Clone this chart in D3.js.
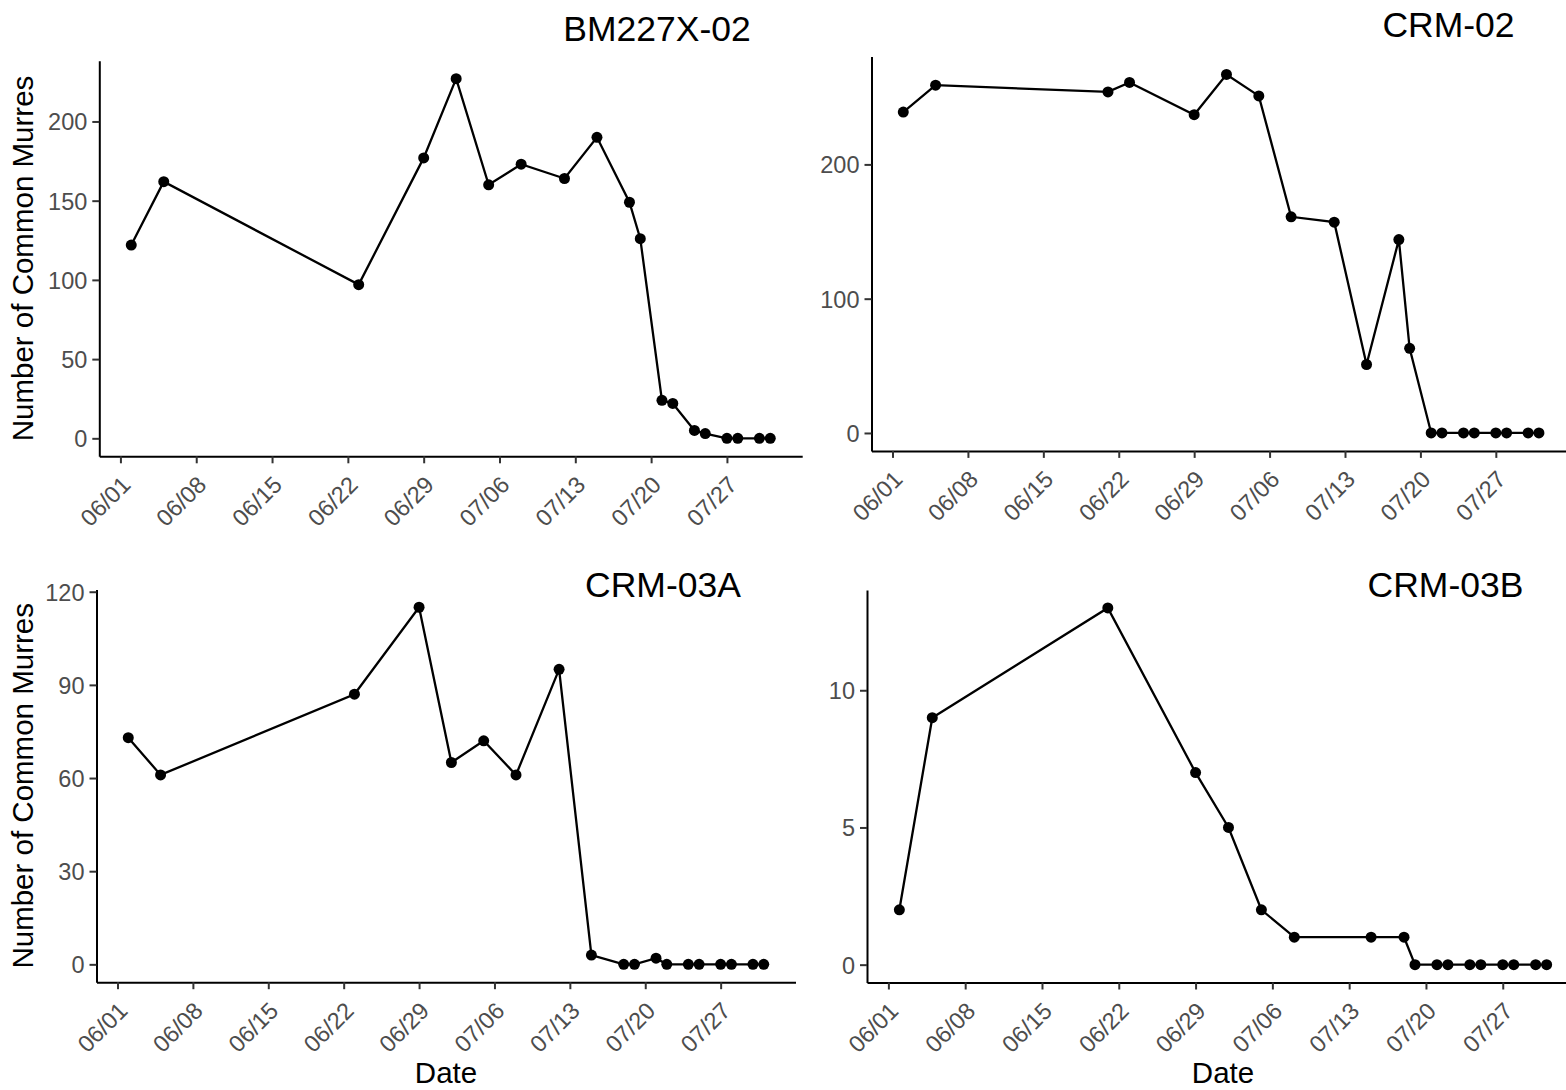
<!DOCTYPE html>
<html>
<head>
<meta charset="utf-8">
<script src="https://cdnjs.cloudflare.com/ajax/libs/d3/7.8.5/d3.min.js"></script>
<style>
  body { margin: 0; background: #fff; }
  svg { display: block; font-family: "Liberation Sans", Arial, sans-serif; }
  .ax path { stroke: #000; stroke-width: 2px; }
  .ax line { stroke: #333; stroke-width: 2px; }
  .ax text { fill: #4d4d4d; font-size: 23.5px; font-family: "Liberation Sans", Arial, sans-serif; }
</style>
</head>
<body>
<div id="plot"></div>
<script>
// survey dates (2021) and counts per colony
var datesBM = ["06-02","06-05","06-23","06-29","07-02","07-05","07-08","07-12","07-15","07-18","07-19","07-21","07-22","07-24","07-25","07-27","07-28","07-30","07-31"];
var countsBM = [122,162,97,177,227,160,173,164,190,149,126,24,22,5,3,0,0,0,0];

var datesCRM02 = ["06-02","06-05","06-21","06-23","06-29","07-02","07-05","07-08","07-12","07-15","07-18","07-19","07-21","07-22","07-24","07-25","07-27","07-28","07-30","07-31"];
var countsCRM02 = [239,259,254,261,237,267,251,161,157,51,144,63,0,0,0,0,0,0,0,0];

var datesCRM03A = ["06-02","06-05","06-23","06-29","07-02","07-05","07-08","07-12","07-15","07-18","07-19","07-21","07-22","07-24","07-25","07-27","07-28","07-30","07-31"];
var countsCRM03A = [73,61,87,115,65,72,61,95,3,0,0,2,0,0,0,0,0,0,0];

var datesCRM03B = ["06-02","06-05","06-21","06-29","07-02","07-05","07-08","07-15","07-18","07-19","07-21","07-22","07-24","07-25","07-27","07-28","07-30","07-31"];
var countsCRM03B = [2,9,13,7,5,2,1,1,1,0,0,0,0,0,0,0,0,0];

var siteNames = ["BM227X-02", "CRM-02", "CRM-03A", "CRM-03B"];
var xTickLabels = ["06/01","06/08","06/15","06/22","06/29","07/06","07/13","07/20","07/27"];
var yTicksBM = [0, 50, 100, 150, 200];
var yTicksCRM02 = [0, 100, 200];
var yTicksCRM03A = [0, 30, 60, 90, 120];
var yTicksCRM03B = [0, 5, 10];

var yLabel = "Number of Common Murres";
var xLabel = "Date";

var parse = d3.timeParse("%Y-%m-%d");
var parseTick = d3.timeParse("%Y/%m/%d");
var fmt = d3.timeFormat("%m/%d");

var W = 1566, H = 1090;
var svg = d3.select("#plot").append("svg")
  .attr("width", W)
  .attr("height", H);

// panel boxes: left, right, top, bottom
var panels = [
  { dates: datesBM, counts: countsBM, ticks: yTicksBM, name: siteNames[0], box: [99.3, 802.2, 60.7, 456.3], title: [657, 41], ylab: true, xlab: false },
  { dates: datesCRM02, counts: countsCRM02, ticks: yTicksCRM02, name: siteNames[1], box: [871.5, 1570.7, 56.5, 450.9], title: [1448.5, 37], ylab: false, xlab: false },
  { dates: datesCRM03A, counts: countsCRM03A, ticks: yTicksCRM03A, name: siteNames[2], box: [96.5, 795.5, 589.4, 982.2], title: [663, 597], ylab: true, xlab: true },
  { dates: datesCRM03B, counts: countsCRM03B, ticks: yTicksCRM03B, name: siteNames[3], box: [867, 1579, 590.1, 982.5], title: [1445.5, 597], ylab: false, xlab: true }
];

var xTicks = xTickLabels.map(function(t) { return parseTick("2021/" + t); });

panels.forEach(function(p) {
  var pts = p.dates.map(function(d, i) {
    return { date: parse("2021-" + d), n: p.counts[i] };
  });

  // ggplot style 5% padding on both scales
  var ext = d3.extent(pts, function(d) { return d.date; });
  var pad = (ext[1] - ext[0]) * 0.05;
  var x = d3.scaleTime()
    .domain([new Date(+ext[0] - pad), new Date(+ext[1] + pad)])
    .range([p.box[0], p.box[1]]);

  var ymax = d3.max(pts, function(d) { return d.n; });
  var ypad = ymax * 0.05;
  var y = d3.scaleLinear()
    .domain([-ypad, ymax + ypad])
    .range([p.box[3], p.box[2]]);

  var xAxis = d3.axisBottom(x)
    .tickValues(xTicks)
    .tickFormat(fmt)
    .tickSize(7)
    .tickSizeOuter(0);

  var yAxis = d3.axisLeft(y)
    .tickValues(p.ticks)
    .tickSize(7)
    .tickSizeOuter(0)
    .tickPadding(5);

  var gx = svg.append("g")
    .attr("class", "ax")
    .attr("transform", "translate(0," + p.box[3] + ")")
    .call(xAxis);
  gx.selectAll("text")
    .attr("x", 0)
    .attr("y", 0)
    .attr("dy", "0.72em")
    .attr("text-anchor", "end")
    .attr("transform", "translate(-1,18) rotate(-45)");

  var gy = svg.append("g")
    .attr("class", "ax")
    .attr("transform", "translate(" + p.box[0] + ",0)")
    .call(yAxis);
  gy.selectAll("text").attr("dy", "0.36em");

  // line then dots
  var line = d3.line()
    .x(function(d) { return x(d.date); })
    .y(function(d) { return y(d.n); });

  svg.append("path")
    .datum(pts)
    .attr("d", line)
    .attr("fill", "none")
    .attr("stroke", "#000")
    .attr("stroke-width", 2.3);

  svg.append("g").selectAll("circle")
    .data(pts)
    .enter()
    .append("circle")
    .attr("cx", function(d) { return x(d.date); })
    .attr("cy", function(d) { return y(d.n); })
    .attr("r", 5.5)
    .attr("fill", "#000");

  svg.append("text")
    .attr("x", p.title[0])
    .attr("y", p.title[1])
    .attr("text-anchor", "middle")
    .style("font-size", "35.5px")
    .text(p.name);

  if (p.ylab) {
    svg.append("text")
      .attr("text-anchor", "middle")
      .attr("transform", "translate(33," + ((p.box[2] + p.box[3]) / 2) + ") rotate(-90)")
      .style("font-size", "29.5px")
      .text(yLabel);
  }
  if (p.xlab) {
    svg.append("text")
      .attr("text-anchor", "middle")
      .attr("x", (p.box[0] + p.box[1]) / 2)
      .attr("y", 1083)
      .style("font-size", "29.5px")
      .text(xLabel);
  }
});
</script>
</body>
</html>
